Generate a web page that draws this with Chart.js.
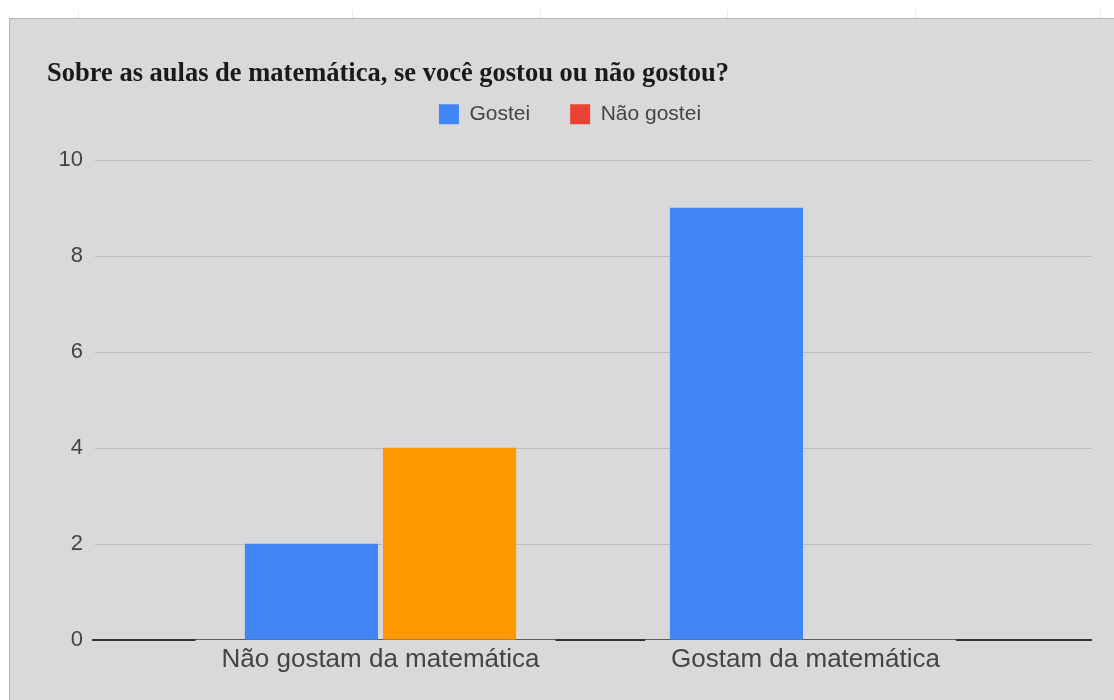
<!DOCTYPE html>
<html>
<head>
<meta charset="utf-8">
<script src="https://cdn.jsdelivr.net/npm/chart.js@4/dist/chart.umd.min.js"></script>
<style>
  html, body { margin: 0; padding: 0; background: #fff; }
  #chart { display: block; }
</style>
</head>
<body>
<canvas id="chart" width="1114" height="700"></canvas>
<script>
var categories = ['Não gostam da matemática', 'Gostam da matemática'];
var seriesLabels = ['Gostei', 'Não gostei'];
var gosteiValues = [2, 9];
var naoGosteiValues = [4, null];
var yTicks = [0, 2, 4, 6, 8, 10];
var barColors = ['#4285f4', '#ff9900'];
var legendColors = ['#4285f4', '#ea4335'];

var panelColor = '#d9d9d9';

// sheet background, grid lines and the broken base line
var backdropPlugin = {
    id: 'backdrop',
    beforeDraw: function (chart) {
        var ctx = chart.ctx;
        var w = chart.width, h = chart.height;
        ctx.save();
        ctx.fillStyle = '#ffffff';
        ctx.fillRect(0, 0, w, h);
        ctx.fillStyle = panelColor;
        ctx.fillRect(9, 18, w - 9, h - 18);
        ctx.strokeStyle = '#b4b4b4';
        ctx.lineWidth = 1;
        ctx.beginPath();
        ctx.moveTo(9, 18.5);
        ctx.lineTo(w, 18.5);
        ctx.moveTo(9.5, 18);
        ctx.lineTo(9.5, h);
        ctx.stroke();

        ctx.strokeStyle = '#ececec';
        [78, 352, 540, 727, 915, 1100].forEach(function (x) {
            ctx.beginPath();
            ctx.moveTo(x + 0.5, 10);
            ctx.lineTo(x + 0.5, 18);
            ctx.stroke();
        });

        var y = chart.scales.y;
        yTicks.forEach(function (v) {
            var py = Math.round(y.getPixelForValue(v));
            ctx.beginPath();
            if (v === 0) {
                ctx.strokeStyle = '#333333';
                ctx.lineWidth = 2;
                ctx.moveTo(92, py);
                ctx.lineTo(1092, py);
            } else {
                ctx.strokeStyle = '#bcbcbc';
                ctx.lineWidth = 1;
                ctx.moveTo(95, py + 0.5);
                ctx.lineTo(1092, py + 0.5);
            }
            ctx.stroke();
        });
        ctx.restore();
    }
};

new Chart(document.getElementById('chart'), {
    type: 'bar',
    data: {
        labels: categories,
        datasets: [
            {
                label: seriesLabels[0],
                data: gosteiValues,
                backgroundColor: barColors[0],
                categoryPercentage: 0.65,
                barPercentage: 0.964
            },
            {
                label: seriesLabels[1],
                data: naoGosteiValues,
                backgroundColor: barColors[1],
                categoryPercentage: 0.65,
                barPercentage: 0.964
            }
        ]
    },
    options: {
        responsive: false,
        animation: false,
        layout: {padding: {top: 18, left: 47, right: 21, bottom: 21}},
        plugins: {
            tooltip: {enabled: false},
            title: {
                display: true,
                text: 'Sobre as aulas de matemática, se você gostou ou não gostou?',
                align: 'start',
                color: '#1a1a1a',
                font: {family: 'Liberation Serif', size: 26.5, weight: 'bold'},
                padding: {top: 40, bottom: -26}
            },
            legend: {
                position: 'top',
                labels: {
                    boxWidth: 20,
                    boxHeight: 20,
                    padding: 40,
                    color: '#444444',
                    font: {family: 'Liberation Sans', size: 21},
                    generateLabels: function (chart) {
                        var items = Chart.defaults.plugins.legend.labels.generateLabels(chart);
                        items.forEach(function (item, i) {
                            item.fillStyle = legendColors[i];
                            item.strokeStyle = legendColors[i];
                            item.lineWidth = 0;
                        });
                        return items;
                    }
                }
            }
        },
        scales: {
            x: {
                grid: {display: false, drawTicks: false},
                border: {display: false},
                ticks: {
                    color: '#444444',
                    font: {family: 'Liberation Sans', size: 26},
                    padding: 4,
                    maxRotation: 0,
                    showLabelBackdrop: true,
                    backdropColor: panelColor,
                    backdropPadding: {top: 7, bottom: 4, left: 26, right: 16}
                }
            },
            xTop: {
                type: 'linear',
                position: 'top',
                grid: {display: false, drawTicks: false},
                border: {display: false},
                ticks: {display: false},
                afterFit: function (scale) { scale.height = 25; }
            },
            y: {
                min: yTicks[0],
                max: yTicks[yTicks.length - 1],
                grid: {display: false, drawTicks: false},
                border: {display: false},
                ticks: {
                    stepSize: yTicks[1] - yTicks[0],
                    color: '#444444',
                    font: {family: 'Liberation Sans', size: 22},
                    padding: 85
                },
                afterFit: function (scale) {
                    // big label padding pushes labels left; keep it from eating vertical room
                    scale.width = 121;
                    scale.paddingTop = 14;
                    scale.paddingBottom = 14;
                }
            },
            yRight: {
                type: 'linear',
                position: 'right',
                grid: {display: false, drawTicks: false},
                border: {display: false},
                ticks: {display: false},
                afterFit: function (scale) { scale.width = 75; }
            }
        }
    },
    plugins: [backdropPlugin]
});
</script>
</body>
</html>
